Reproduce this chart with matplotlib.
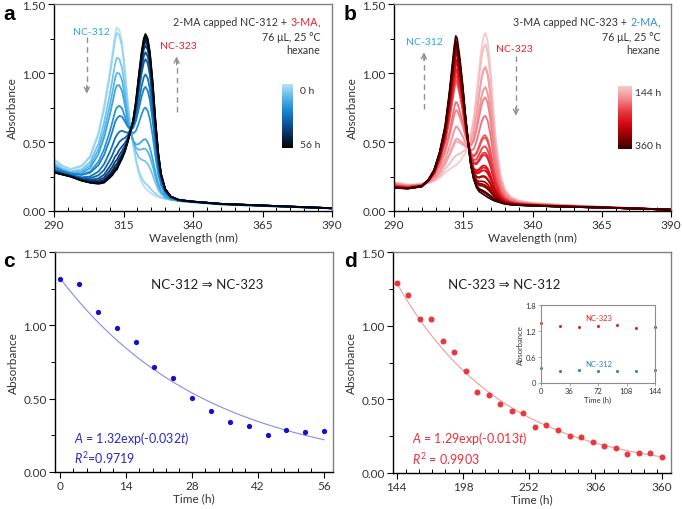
import numpy as np
import matplotlib
matplotlib.use("Agg")
import matplotlib.pyplot as plt
from matplotlib.colors import LinearSegmentedColormap
from matplotlib.ticker import MultipleLocator, FixedLocator, FormatStrFormatter

plt.rcParams['font.family'] = ['Lato', 'DejaVu Sans']
plt.rcParams['mathtext.fontset'] = 'custom'
plt.rcParams['mathtext.rm'] = 'Lato'
plt.rcParams['mathtext.it'] = 'Lato:italic'

# ---------------- data ----------------
# Panel a: component spectra (0 h and 56 h)
wl_a = [290, 293, 296, 300, 303, 306, 308, 310, 311, 312, 312.6, 313.5, 314.5, 315.5,
        316.5, 317.5, 318.5, 319.5, 320.5, 321.5, 322.3, 322.9, 323.7, 324.5, 325.5,
        326.5, 327.5, 328.5, 330, 332, 335, 340, 350, 365, 390]
spec_a_0h = [0.377, 0.33, 0.305, 0.33, 0.40, 0.57, 0.76, 1.00, 1.14, 1.28, 1.33, 1.31, 1.22,
             1.03, 0.80, 0.62, 0.48, 0.36, 0.27, 0.21, 0.18, 0.165, 0.15, 0.135, 0.12, 0.11,
             0.10, 0.095, 0.087, 0.082, 0.075, 0.068, 0.05, 0.038, 0.02]
spec_a_56h = [0.28, 0.265, 0.25, 0.22, 0.205, 0.197, 0.205, 0.24, 0.26, 0.29, 0.30, 0.34, 0.38,
              0.43, 0.50, 0.58, 0.66, 0.80, 0.98, 1.15, 1.25, 1.283, 1.25, 1.15, 0.93, 0.65,
              0.42, 0.27, 0.16, 0.105, 0.08, 0.068, 0.052, 0.04, 0.02]
times_a = [0, 4, 8, 12, 16, 20, 24, 28, 32, 36, 40, 44, 48, 52, 56]
peak312_a = [1.33, 1.29, 1.11, 1.00, 0.91, 0.75, 0.67, 0.55, 0.47, 0.41, 0.37, 0.34, 0.32, 0.31, 0.30]
peak323_a = [0.165, 0.20, 0.36, 0.45, 0.52, 0.75, 0.90, 0.99, 1.10, 1.15, 1.20, 1.23, 1.25, 1.27, 1.283]

# Panel b: component spectra (144 h and 360 h)
wl_b = [290, 295, 300, 302.5, 304.5, 306.5, 308.5, 310, 311, 311.8, 312.3, 312.8, 313.8, 314.8,
        315.8, 316.8, 317.8, 318.8, 319.8, 320.8, 321.6, 322.3, 323, 323.8, 324.7, 325.6,
        326.5, 327.5, 328.5, 330, 332, 335, 340, 350, 365, 390]
spec_b_360h = [0.17, 0.165, 0.18, 0.23, 0.30, 0.43, 0.62, 0.86, 1.05, 1.20, 1.268, 1.25, 1.10,
               0.91, 0.69, 0.50, 0.33, 0.23, 0.17, 0.14, 0.13, 0.12, 0.111, 0.10, 0.09, 0.08,
               0.072, 0.066, 0.06, 0.052, 0.047, 0.043, 0.039, 0.032, 0.025, 0.01]
spec_b_144h = [0.21, 0.19, 0.195, 0.205, 0.215, 0.24, 0.28, 0.30, 0.315, 0.325, 0.33, 0.34,
               0.36, 0.39, 0.42, 0.47, 0.56, 0.68, 0.85, 1.04, 1.18, 1.26, 1.29, 1.23, 1.06,
               0.81, 0.58, 0.40, 0.26, 0.16, 0.105, 0.075, 0.058, 0.045, 0.03, 0.01]
peak312_b = [0.33, 0.40, 0.50, 0.52, 0.61, 0.73, 0.79, 0.93, 0.95, 0.98, 1.01, 1.03, 1.08,
             1.07, 1.10, 1.14, 1.15, 1.17, 1.19, 1.20, 1.23, 1.23, 1.23, 1.268]

# Panel c
time_c = [0, 4, 8, 12, 16, 20, 24, 28, 32, 36, 40, 44, 48, 52, 56]
abs_c = [1.314, 1.28, 1.093, 0.98, 0.886, 0.718, 0.641, 0.507, 0.416, 0.343, 0.314, 0.25,
         0.286, 0.273, 0.277]
fit_c_A, fit_c_k = 1.32, 0.032

# Panel d
time_d = [144.0, 153.4, 162.8, 172.2, 181.6, 191.0, 200.3, 209.7, 219.1, 228.5, 237.9, 247.3,
          256.7, 266.1, 275.5, 284.9, 294.3, 303.7, 313.0, 322.4, 331.8, 341.2, 350.6, 360.0]
abs_d = [1.29, 1.208, 1.045, 1.043, 0.898, 0.824, 0.690, 0.550, 0.532, 0.468, 0.423, 0.405,
         0.312, 0.328, 0.292, 0.249, 0.244, 0.208, 0.186, 0.172, 0.129, 0.136, 0.136, 0.111]
fit_d_A, fit_d_k = 1.29, 0.0114   # drawn curve as it appears in the figure

# Inset
time_in = [0, 24, 48, 72, 96, 120, 144]
inset_323 = [1.38, 1.318, 1.279, 1.31, 1.341, 1.264, 1.288]
inset_312 = [0.334, 0.271, 0.279, 0.256, 0.264, 0.256, 0.295]

# ---------------- figure ----------------
W, H = 682, 510
fig = plt.figure(figsize=(W / 100, H / 100), dpi=100)


def px_axes(l, t, r, b):
    return fig.add_axes([l / W, 1 - b / H, (r - l) / W, (b - t) / H])


def ftext(x, y, s, **kw):
    return fig.text(x / W, 1 - y / H, s, **kw)


TXT = '#333333'


def style_main(ax, xlim, xmaj, xmin_):
    ax.set_xlim(*xlim)
    ax.set_ylim(0, 1.5)
    ax.xaxis.set_major_locator(FixedLocator(xmaj))
    ax.xaxis.set_minor_locator(MultipleLocator(xmin_))
    ax.yaxis.set_major_locator(MultipleLocator(0.5))
    ax.yaxis.set_minor_locator(MultipleLocator(0.25))
    ax.yaxis.set_major_formatter(FormatStrFormatter('%.2f'))
    ax.tick_params(which='major', direction='out', length=4, width=0.8, labelsize=8.5,
                   labelcolor=TXT, pad=2)
    ax.tick_params(axis='x', which='minor', direction='in', length=3, width=0.7)
    ax.tick_params(axis='y', which='minor', direction='out', length=3, width=0.7)
    for s in ['left', 'bottom']:
        ax.spines[s].set_color('black')
        ax.spines[s].set_linewidth(1.0)
    for s in ['top', 'right']:
        ax.spines[s].set_color('#808080')
        ax.spines[s].set_linewidth(1.0)
    ax.set_ylabel('Absorbance', fontsize=8.5, color=TXT, labelpad=3)


def mixtures(s312, s323, p312, p323, i312, i323):
    s312 = np.asarray(s312)
    s323 = np.asarray(s323)
    M = np.array([[s312[i312], s323[i312]], [s312[i323], s323[i323]]])
    out = []
    for a, b in zip(p312, p323):
        w = np.linalg.solve(M, [a, b])
        out.append(w[0] * s312 + w[1] * s323)
    return out


def multicolor_right(x, y, parts, size):
    r = fig.canvas.get_renderer()

    def width(s):
        t = fig.text(0, 0, s, fontsize=size)
        w = t.get_window_extent(r).width
        t.remove()
        return w
    sp = width('x x') - width('xx')
    xr = x
    for s, c in reversed(parts):
        if s == ' ':
            xr -= sp
            continue
        ftext(xr, y, s, color=c, fontsize=size, ha='right', va='baseline')
        xr -= width(s)


def dashed_arrow(ax, x, y0, y1):
    ax.plot([x, x], [y0, y1 + (0.03 if y1 > y0 else -0.03) * -1], ls=(0, (4, 3)),
            color='#909090', lw=1.0)
    d = 0.06 if y1 > y0 else -0.06
    ax.annotate('', xy=(x, y1), xytext=(x, y1 - d),
                arrowprops=dict(arrowstyle='->', color='#909090', lw=1.0,
                                mutation_scale=9, shrinkA=0, shrinkB=0))


# ----- panel a -----
axA = px_axes(54, 5, 332, 212)
style_main(axA, (290, 390), [290, 315, 340, 365, 390], 5)
axA.set_xlabel('Wavelength (nm)', fontsize=8.5, color=TXT, labelpad=1)
cmapA = LinearSegmentedColormap.from_list(
    'bl', ['#b5e1f6', '#5bb8e9', '#1a8bd2', '#0b5ba3', '#0a2c5a', '#010408'])
curvesA = mixtures(spec_a_0h, spec_a_56h, peak312_a, peak323_a,
                   wl_a.index(312.6), wl_a.index(322.9))
for i, c in enumerate(curvesA):
    axA.plot(wl_a, c, color=cmapA(i / (len(curvesA) - 1)), lw=1.3)
dashed_arrow(axA, 301.8, 1.26, 0.85)
dashed_arrow(axA, 334.1, 0.72, 1.12)
axA.text(303.3, 1.30, 'NC-312', color='#2aa9e2', fontsize=7.5, ha='center', va='center')
axA.text(334.6, 1.20, 'NC-323', color='#e8202a', fontsize=7.5, ha='center', va='center')

cbA = px_axes(282, 85, 293, 149)
cbA.imshow(np.linspace(0, 1, 100).reshape(-1, 1), aspect='auto', cmap=cmapA)
cbA.axis('off')
ftext(300, 91, '0 h', fontsize=7.5, color=TXT, va='center')
ftext(300, 145, '56 h', fontsize=7.5, color=TXT, va='center')

multicolor_right(320, 26, [('2-MA capped NC-312 +', TXT), (' ', None), ('3-MA', '#e8202a'),
                           (',', TXT)], 7.7)
ftext(320, 41, '76 μL, 25 °C', fontsize=7.7, color=TXT, ha='right', va='baseline')
ftext(320, 54, 'hexane', fontsize=7.7, color=TXT, ha='right', va='baseline')

# ----- panel b -----
axB = px_axes(394, 5, 671, 212)
style_main(axB, (290, 390), [290, 315, 340, 365, 390], 5)
axB.set_xlabel('Wavelength (nm)', fontsize=8.5, color=TXT, labelpad=1)
cmapB = LinearSegmentedColormap.from_list(
    'rd', ['#f7c9cb', '#f28a8f', '#ea3a42', '#d40812', '#920000', '#3a0000'])
curvesB = mixtures(spec_b_360h, spec_b_144h, peak312_b, abs_d,
                   wl_b.index(312.3), wl_b.index(323))
for i, c in enumerate(curvesB):
    axB.plot(wl_b, c, color=cmapB(i / (len(curvesB) - 1)), lw=1.3)
dashed_arrow(axB, 300.8, 0.74, 1.15)
dashed_arrow(axB, 334.0, 1.12, 0.69)
axB.text(300.8, 1.225, 'NC-312', color='#2aa9e2', fontsize=7.5, ha='center', va='center')
axB.text(333.6, 1.18, 'NC-323', color='#e8202a', fontsize=7.5, ha='center', va='center')

cbB = px_axes(618, 87, 632, 150)
cbB.imshow(np.linspace(0, 1, 100).reshape(-1, 1), aspect='auto', cmap=cmapB)
cbB.axis('off')
ftext(635, 94, '144 h', fontsize=7.5, color=TXT, va='center')
ftext(635, 147, '360 h', fontsize=7.5, color=TXT, va='center')

multicolor_right(660, 26, [('3-MA capped NC-323 +', TXT), (' ', None), ('2-MA', '#2a8fd0'),
                           (',', TXT)], 7.7)
ftext(660, 41, '76 μL, 25 °C', fontsize=7.7, color=TXT, ha='right', va='baseline')
ftext(660, 54, 'hexane', fontsize=7.7, color=TXT, ha='right', va='baseline')

# ----- panel c -----
axC = px_axes(55, 253, 333, 473)
style_main(axC, (-1.1, 57.9), [0, 14, 28, 42, 56], 2.8)
axC.set_xlabel('Time (h)', fontsize=8.5, color=TXT, labelpad=1)
tC = np.linspace(time_c[0], time_c[-1], 200)
axC.plot(tC, fit_c_A * np.exp(-fit_c_k * tC), color='#8a8ae6', lw=0.8)
axC.plot(time_c, abs_c, 'o', color='#1212cc', ms=3.8, mec='none', clip_on=False)
axC.text(31.2, 1.28, 'NC-312 ⇒ NC-323', fontsize=9.5, color='#222222', ha='center', va='center')
axC.text(3.0, 0.235, r'$\mathit{A}$ = 1.32exp(-0.032$\mathit{t}$)', fontsize=9, color='#2a2ac0',
         va='center')
axC.text(3.0, 0.10, r'$\mathit{R}^{2}$=0.9719', fontsize=9, color='#2a2ac0', va='center')

# ----- panel d -----
axD = px_axes(393, 253, 671, 474)
style_main(axD, (141, 367.6), [144, 198, 252, 306, 360], 10.8)
axD.set_xlabel('Time (h)', fontsize=8.5, color=TXT, labelpad=1)
tD = np.linspace(time_d[0], time_d[-1], 200)
axD.plot(tD, fit_d_A * np.exp(-fit_d_k * (tD - time_d[0])), color='#f09a9a', lw=0.8)
axD.plot(time_d, abs_d, 'o', color='#e8373d', ms=4.3, mec='none', clip_on=False)
axD.text(231.5, 1.28, 'NC-323 ⇒ NC-312', fontsize=9.5, color='#222222', ha='center', va='center')
axD.text(156.5, 0.24, r'$\mathit{A}$ = 1.29exp(-0.013$\mathit{t}$)', fontsize=9, color='#e8303a',
         va='center')
axD.text(156.5, 0.10, r'$\mathit{R}^{2}$ = 0.9903', fontsize=9, color='#e8303a', va='center')

# ----- inset -----
axI = px_axes(541, 306, 655, 383.5)
axI.set_xlim(0, 144)
axI.set_ylim(0, 1.8)
axI.set_xticks([0, 36, 72, 108, 144])
axI.set_yticks([0, 0.6, 1.2, 1.8])
axI.set_yticklabels(['0', '0.6', '1.2', '1.8'])
axI.tick_params(labelsize=5.5, length=2, width=0.5, pad=1.5, labelcolor=TXT, color='#888888')
for s in axI.spines.values():
    s.set_color('#8c8c8c')
    s.set_linewidth(0.8)
axI.set_xlabel('Time (h)', fontsize=5.5, color=TXT, labelpad=1)
axI.set_ylabel('Absorbance', fontsize=5.5, color=TXT, labelpad=1)
axI.plot(time_in, inset_323, 'o', color='#e42020', ms=2.2, mec='none', clip_on=False)
axI.plot(time_in, inset_312, 'o', color='#2a7fc4', ms=2.2, mec='none', clip_on=False)
axI.text(73, 1.52, 'NC-323', fontsize=5.5, color='#e42020', ha='center', va='center')
axI.text(73, 0.45, 'NC-312', fontsize=5.5, color='#2a7fc4', ha='center', va='center')

# panel letters
for x, y, s in [(3, 20, 'a'), (344, 20, 'b'), (3, 267, 'c'), (344, 267, 'd')]:
    ftext(x, y, s, fontsize=15, fontweight='bold', family='Liberation Sans', va='baseline')

fig.savefig('out.png', dpi=100)
